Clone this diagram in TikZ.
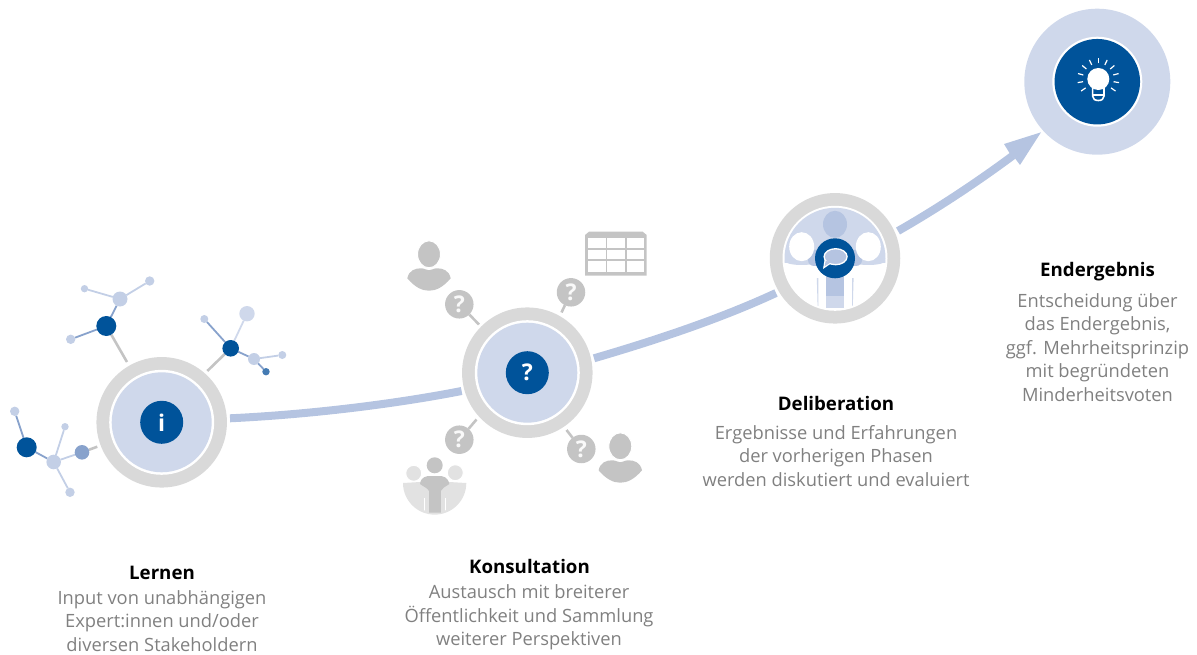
\documentclass[tikz,border=0pt]{standalone}
\usepackage{fontspec}
\setmainfont{Open Sans}
\usetikzlibrary{backgrounds}
\definecolor{dkblue}{HTML}{00539A}
\definecolor{pale}{HTML}{CFD8EB}
\definecolor{flow}{HTML}{B5C4E1}
\definecolor{ringgray}{HTML}{D9D9D9}
\definecolor{icongray}{HTML}{C4C4C4}
\definecolor{lightgray2}{HTML}{E2E2E2}
\definecolor{midblue}{HTML}{88A2CC}
\definecolor{molblue}{HTML}{C3CFE6}
\definecolor{bodytxt}{HTML}{808080}
\tikzset{
  disc/.style={circle,inner sep=0pt,outer sep=0pt,minimum size=#1},
  ringo/.style={disc=130.5,fill=ringgray},
  ringw/.style={disc=105,fill=white},
  ringf/.style={disc=100,fill=pale},
  core/.style={disc=43,fill=dkblue,text=white,font=\fontsize{23}{23}\selectfont\bfseries},
  mdark/.style={disc=#1,fill=dkblue},
  mlight/.style={disc=#1,fill=molblue},
  qdot/.style={disc=28.5,fill=icongray,text=white!90!icongray,font=\fontsize{23}{23}\selectfont\bfseries},
  flowline/.style={draw=flow,line width=8pt},
  stem/.style={draw=icongray,line width=2.6pt},
  bond/.style={line width=1.8pt,draw=#1},
  title/.style={font=\fontsize{18.7}{20}\selectfont\bfseries,text=black,inner sep=0pt},
  copy/.style={font=\fontsize{18.3}{23.5}\selectfont,text=bodytxt,align=center,inner sep=0pt},
  person/.pic={
    \fill[icongray] (-21.7,24) .. controls (-20,16) and (-14,14) .. (-8,14) .. controls (-4,14) and (-3,16) .. (0,16)
      .. controls (3,16) and (4,14) .. (8,14) .. controls (14,14) and (20,16) .. (21.7,24)
      .. controls (14,33) and (7,36.4) .. (0,36.4) .. controls (-7,36.4) and (-14,33) .. (-21.7,24) -- cycle;
    \fill[icongray,draw=white,line width=1pt] (0,0) ellipse [x radius=11.5,y radius=13.5];
  }
}
\begin{document}
\begin{tikzpicture}[x=1pt,y=-1pt]
\useasboundingbox (0,0) rectangle (1197,655);

% ring 1
\node[ringo] (r1) at (161.7,422.3) {};
\node[ringw] at (r1) {};
\node[ringf] at (r1) {};
\node[core] (c1) at (r1) {i};
% ring 2
\node[ringo] (r2) at (527.3,372.7) {};
\node[ringw] at (r2) {};
\node[ringf] at (r2) {};
\node[core] (c2) at (r2) {?};
% ring 3
\node[ringo] (r3) at (835,258.3) {};
\node[ringw] at (r3) {};
\begin{scope}
  \clip (r3) circle (50.5);
  \fill[pale] (780,206) rectangle (890,263);
  \fill[pale] (801.7,261) ellipse [x radius=17,y radius=4];
  \fill[pale] (868.3,261) ellipse [x radius=17,y radius=4];
  \fill[flow,rounded corners=6pt] (808,250) rectangle (862,266);
  \fill[pale] (826,296) rectangle (843.5,308);
  \fill[flow] (826,262) rectangle (843.5,296);
  \fill[pale] (816.8,278) -- (818.3,278) -- (818.3,306) -- (817.6,306) -- cycle;
  \fill[pale] (852.1,278) -- (853.6,278) -- (852.8,306) -- (852.1,306) -- cycle;
  \fill[flow] (835,224.3) ellipse [x radius=12,y radius=13.5];
  \fill[white] (801.7,246.7) ellipse [x radius=12.5,y radius=14.5];
  \fill[white] (868.3,246.7) ellipse [x radius=12.5,y radius=14.5];
\end{scope}
\node[disc=40,fill=dkblue] (c3) at (r3) {};
\fill[white] (824.5,260) -- (823,269) -- (831,263.5) -- cycle;
\fill[flow,draw=white,line width=1.3pt] (835.6,256.7) ellipse [x radius=11.5,y radius=8];
\fill[flow] (825.8,260.5) -- (824.6,266.3) -- (830.5,262.5) -- cycle;
% result
\node[disc=146,fill=pale] (r4) at (1097.3,81.7) {};
\node[disc=90,fill=white] at (r4) {};
\node[disc=85.5,fill=dkblue] (c4) at (r4) {};
\fill[white] (1098.3,79) circle (11);
\draw[white,line width=1.6pt] (1092.6,87) -- (1092.6,96) .. controls (1092.6,99) and (1095,100.5) .. (1098.3,100.5) .. controls (1101.6,100.5) and (1104,99) .. (1104,96) -- (1104,87);
\draw[white,line width=1.3pt] (1092.6,95) -- (1104,95);
\begin{scope}[shift={(1098.3,79)}]
  \foreach \a in {35,10,-15,-40,-65,-90,-115,-140,-165,-190,-215}
    \draw[white,line width=1.2pt] (\a:15.5) -- (\a:21);
\end{scope}

% flow connectors
\coordinate (f1a) at (230,418.3);
\coordinate (f1b) at (461.6,391);
\coordinate (f2a) at (594,358.3);
\coordinate (f2b) at (776,293);
\coordinate (f3a) at (898,231);
\coordinate (f3b) at (1013,155.5);
\draw[flowline] (f1a) .. controls (310,414.5) and (395,404) .. (f1b);
\draw[flowline] (f2a) .. controls (660,339) and (722,318) .. (f2b);
\draw[flowline] (f3a) .. controls (940,207) and (980,180) .. (f3b);
\coordinate (tip) at (1041,132.3);
\fill[flow] (tip) -- (1004,144) -- (1009.3,152.7) -- (1015,158.3) -- (1020,165) -- cycle;

% molecule A
\node[mdark=20] (a1) at (106.3,326) {};
\node[mlight=15] (a2) at (120,299) {};
\node[mlight=7.4] (a3) at (84.5,288.7) {};
\node[mlight=9.4] (a4) at (149.7,281) {};
\node[mlight=9.4] (a5) at (70.7,339.3) {};
\coordinate (a0) at (127,362);
% molecule B
\node[mdark=16.6] (b1) at (230.7,348.3) {};
\node[disc=15.4,fill=pale] (b2) at (247,313.7) {};
\node[mlight=8] (b3) at (204.3,319) {};
\node[mlight=12] (b4) at (254,359) {};
\node[mlight=8] (b5) at (282.3,355) {};
\node[disc=7.4,fill=midblue!50!dkblue] (b6) at (266,371.7) {};
\coordinate (b0) at (207.3,371);
% molecule C
\node[mdark=20] (m1) at (26.7,447.3) {};
\node[mlight=9.4] (m2) at (14.7,411.3) {};
\node[mlight=14.6] (m3) at (53.7,462) {};
\node[mlight=7.4] (m4) at (65,426.7) {};
\node[mlight=9.4] (m5) at (70,492.3) {};
\node[disc=14.6,fill=midblue] (m6) at (82,452.3) {};
\coordinate (m0) at (97.3,446.7);

% consultation question discs
\node[qdot] (q1) at (459.3,304.3) {?};
\node[qdot] (q2) at (571,292.3) {?};
\node[qdot] (q3) at (459.3,439.7) {?};
\node[qdot] (q4) at (581.3,449) {?};
\coordinate (q1e) at (479,324.5);
\coordinate (q2e) at (561.5,312.5);
\coordinate (q3e) at (476.5,419.5);
\coordinate (q4e) at (566.5,430);

\begin{scope}[on background layer]
  \draw[stem] (a1) -- (a0);
  \draw[stem] (b1) -- (b0);
  \draw[stem] (m6) -- (m0);
  \draw[stem] (q1) -- (q1e);
  \draw[stem] (q2) -- (q2e);
  \draw[stem] (q3) -- (q3e);
  \draw[stem] (q4) -- (q4e);
  \draw[bond=midblue] (a1) -- (a2);
  \draw[bond=midblue] (a1) -- (a5);
  \draw[bond=molblue] (a2) -- (a3);
  \draw[bond=molblue] (a2) -- (a4);
  \draw[bond=pale] (b1) -- (b2);
  \draw[bond=midblue] (b1) -- (b3);
  \draw[bond=midblue] (b1) -- (b4);
  \draw[bond=molblue] (b4) -- (b5);
  \draw[bond=midblue] (b4) -- (b6);
  \draw[bond=midblue] (m1) -- (m2);
  \draw[bond=midblue] (m1) -- (m3);
  \draw[bond=molblue] (m3) -- (m4);
  \draw[bond=molblue] (m3) -- (m5);
  \draw[bond=molblue] (m3) -- (m6);
\end{scope}

% people
\pic at (429,254.3) {person};
\pic at (620.3,446.3) {person};
% table
\fill[icongray] (585,235) -- (589,231.7) -- (642.7,231.7) -- (646.7,235) -- (646.7,275.7) -- (585,275.7) -- cycle;
\foreach \xa/\xb in {587.7/605.7,607.3/625.3,627/644.3}
  \foreach \ya/\yb in {237.7/248.3,250/259.3,260.7/271.7}
    \fill[white] (\xa,\ya) rectangle (\xb,\yb);
% group icon
\fill[lightgray2] (403,483) -- (420,482) -- (449,482) -- (466.3,483) arc (0:180:31.65) -- cycle;
\fill[lightgray2,draw=white,line width=1pt] (413.7,473.3) circle (8);
\fill[lightgray2,draw=white,line width=1pt] (455.3,472.7) circle (8);
\fill[icongray] (420,484) .. controls (421,477) and (426,476) .. (430,476) -- (439,476) .. controls (443,476) and (448,477) .. (449.3,484) .. controls (445,487) and (442,488) .. (440.8,491) -- (440.8,512.6) -- (429,512.6) -- (429,491) .. controls (427.5,488) and (424,487) .. (420,484) -- cycle;
\fill[white] (424,498) -- (424.8,498) -- (424.8,510.6) -- (424,510) -- cycle;
\fill[white] (445,498) -- (445.8,498) -- (445.8,510) -- (445,510.6) -- cycle;
\fill[icongray] (434.7,465.3) circle (8);

% labels
\node[title] (t1) at (162,572.5) {Lernen};
\node[copy,anchor=north] (d1) at (162,590.2) {Input von unabhängigen\\Expert:innen und/oder\\diversen Stakeholdern};
\node[title] (t2) at (529.5,566.5) {Konsultation};
\node[copy,anchor=north] (d2) at (529,584.7) {Austausch mit breiterer\\Öffentlichkeit und Sammlung\\weiterer Perspektiven};
\node[title] (t3) at (836,403) {Deliberation};
\node[copy,anchor=north] (d3) at (836,425.2) {Ergebnisse und Erfahrungen\\der vorherigen Phasen\\werden diskutiert und evaluiert};
\node[title] (t4) at (1097.5,272) {Endergebnis};
\node[copy,anchor=north] (d4) at (1097.5,293.2) {Entscheidung über\\das Endergebnis,\\ggf. Mehrheitsprinzip\\mit begründeten\\Minderheitsvoten};
\end{tikzpicture}
\end{document}
